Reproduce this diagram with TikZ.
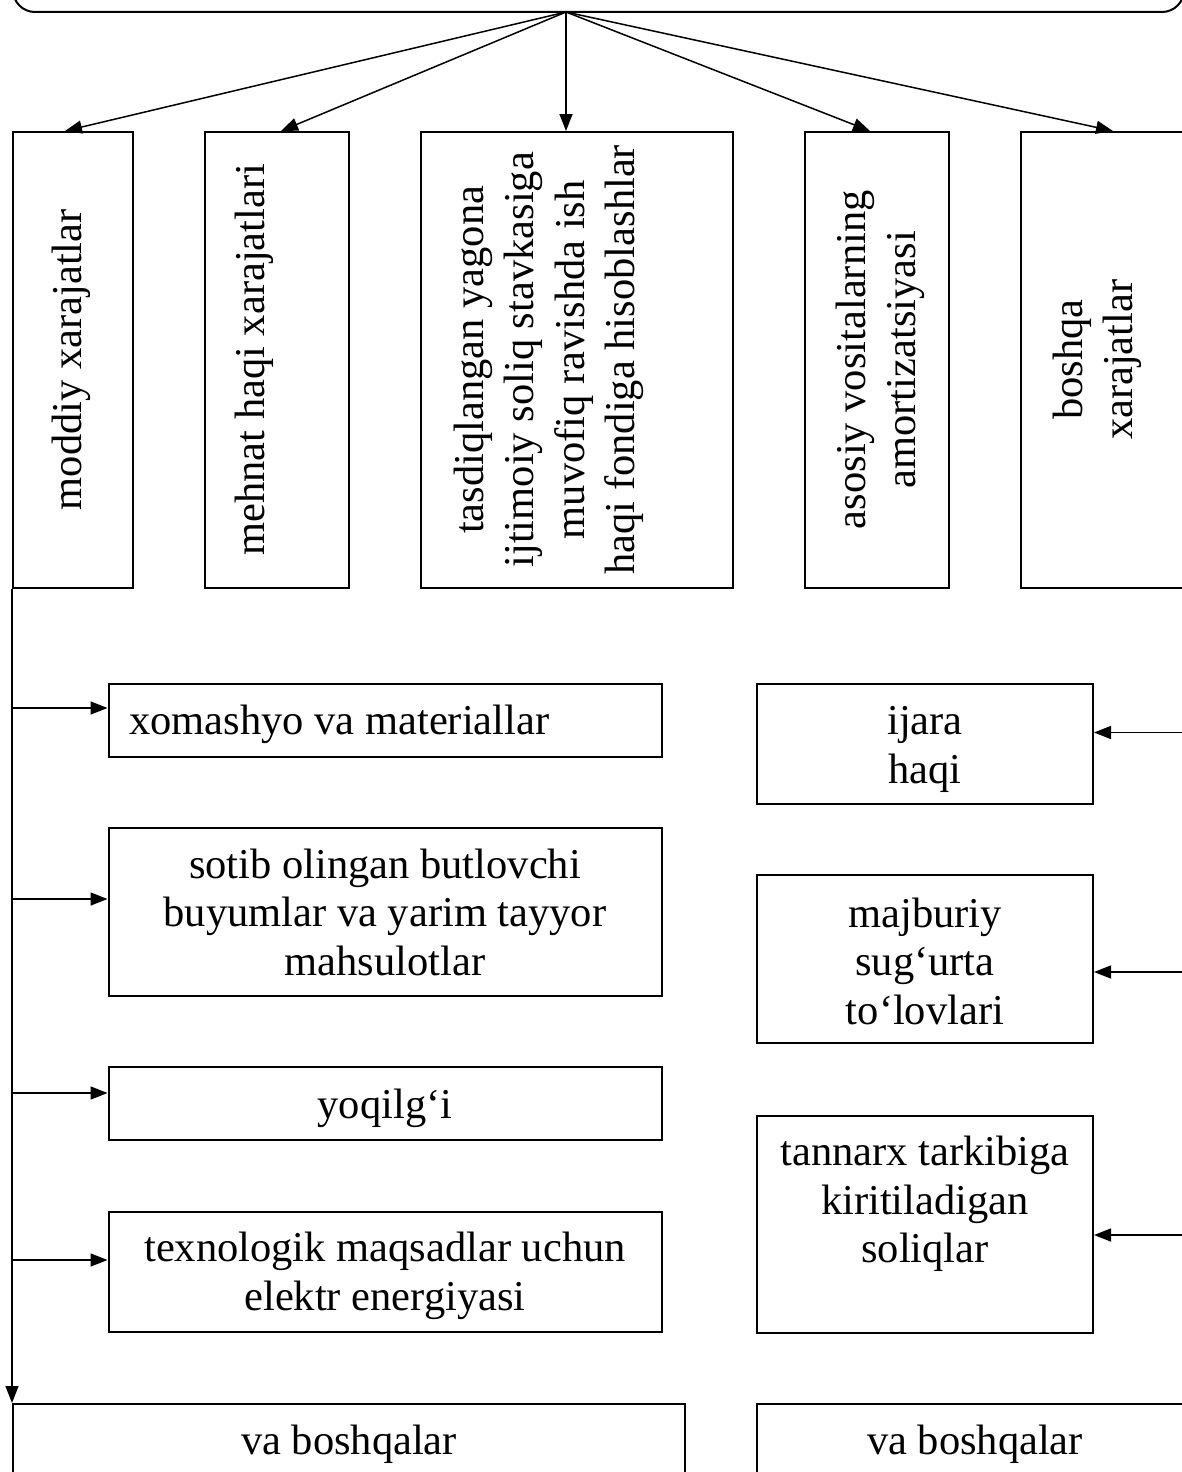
\documentclass[tikz,border=0pt]{standalone}
\usepackage{fontspec}
\setmainfont{Liberation Serif}
\usetikzlibrary{arrows.meta}
\begin{document}
\begin{tikzpicture}[x=1pt,y=-1pt,
  box/.style={draw, line width=2pt, rectangle, inner sep=0pt},
  arr/.style={line width=1.5pt, -{Triangle[length=17pt,width=13pt]}},
  vt/.style={rotate=90, align=center, inner sep=0pt, font=\fontsize{42.5pt}{50.5pt}\selectfont},
  ht/.style={align=center, inner sep=0pt, font=\fontsize{42.5pt}{48.5pt}\selectfont}]
\useasboundingbox (0,0) rectangle (1182,1472);
\clip (0,0) rectangle (1182,1472);

% top box
\node[box, rounded corners=22pt, minimum width=1171pt, minimum height=200pt] (top) at (598.5,-88) {};
\coordinate (src) at (566,12);

% first row of boxes
\node[box, minimum width=120pt, minimum height=455.5pt] (b1) at (73,359.75) {};
\node[box, minimum width=144pt, minimum height=455.5pt] (b2) at (277,359.75) {};
\node[box, minimum width=312pt, minimum height=455.5pt] (b3) at (577,359.75) {};
\node[box, minimum width=144pt, minimum height=455.5pt] (b4) at (877,359.75) {};
\node[box, minimum width=167pt, minimum height=455.5pt] (b5) at (1104.5,359.75) {};

\node[vt] (b1t) at (71.6,359.75) {\strut moddiy xarajatlar};
\node[vt] (b2t) at (254,359.75) {\strut mehnat haqi xarajatlari};
\node[vt] (b3t) at (549,359.75) {\strut tasdiqlangan yagona\\ijtimoiy soliq stavkasiga\\muvofiq ravishda ish\\haqi fondiga hisoblashlar\strut};
\node[vt] (b4t) at (880.4,359.75) {\strut asosiy vositalarning\\amortizatsiyasi\strut};
\node[vt] (b5t) at (1097.5,359.75) {\strut boshqa\\xarajatlar\strut};

% arrows from top
\draw[arr] (src) -- ([xshift=-8pt]b1.north);
\draw[arr] (src) -- ([xshift=4pt]b2.north);
\draw[arr] (src) -- ([xshift=-11pt]b3.north);
\draw[arr] (src) -- ([xshift=-7pt]b4.north);
\draw[arr] (src) -- ([xshift=8.5pt]b5.north);

% left column
\node[box, minimum width=553pt, minimum height=73pt] (xom) at (385,720.5) {};
\node[box, minimum width=553pt, minimum height=168pt] (sot) at (385,912) {};
\node[box, minimum width=553pt, minimum height=73pt] (yoq) at (385,1103.5) {};
\node[box, minimum width=553pt, minimum height=120pt] (tex) at (385,1271.7) {};
\node[box, minimum width=672pt, minimum height=126pt] (vbl) at (349,1467) {};

\node[ht, anchor=west] (xomt) at (129,724.3) {\strut xomashyo va materiallar};
\node[ht] (sott) at (385,916.8) {\strut sotib olingan butlovchi\\buyumlar va yarim tayyor\\mahsulotlar\strut};
\node[ht] (yoqt) at (385,1108.6) {\strut yoqilg‘i};
\node[ht] (text) at (385,1276.2) {\strut texnologik maqsadlar uchun\\elektr energiyasi\strut};
\node[ht] (vblt) at (349,1444.3) {\strut va boshqalar};

\draw[arr] (b1.south west) -- (b1.south west |- vbl.north);
\coordinate (L1) at (13,708);
\coordinate (L2) at (13,899);
\coordinate (L3) at (13,1093);
\coordinate (L4) at (13,1260);
\draw[arr] (L1) -- (L1 -| xom.west);
\draw[arr] (L2) -- (L2 -| sot.west);
\draw[arr] (L3) -- (L3 -| yoq.west);
\draw[arr] (L4) -- (L4 -| tex.west);

% right column
\node[box, minimum width=336pt, minimum height=120pt] (ija) at (925,743.5) {};
\node[box, minimum width=336pt, minimum height=168pt] (maj) at (925,959) {};
\node[box, minimum width=336pt, minimum height=216.5pt] (tan) at (925,1224.25) {};
\node[box, minimum width=436pt, minimum height=126pt] (vbr) at (975,1467) {};

\node[ht] (ijat) at (925,749.3) {\strut ijara\\haqi\strut};
\node[ht] (majt) at (925,966.2) {\strut majburiy\\sug‘urta\\to‘lovlari\strut};
\node[ht] (tant) at (925,1204.3) {\strut tannarx tarkibiga\\kiritiladigan\\soliqlar\strut};
\node[ht] (vbrt) at (975,1444.3) {\strut va boshqalar};

\draw[arr] (b5.south east) -- (b5.south east |- vbr.north);
\coordinate (R1) at (1188,732.5);
\coordinate (R2) at (1188,972);
\coordinate (R3) at (1188,1235);
\draw[arr] (R1) -- (R1 -| ija.east);
\draw[arr] (R2) -- (R2 -| maj.east);
\draw[arr] (R3) -- (R3 -| tan.east);
\end{tikzpicture}
\end{document}
